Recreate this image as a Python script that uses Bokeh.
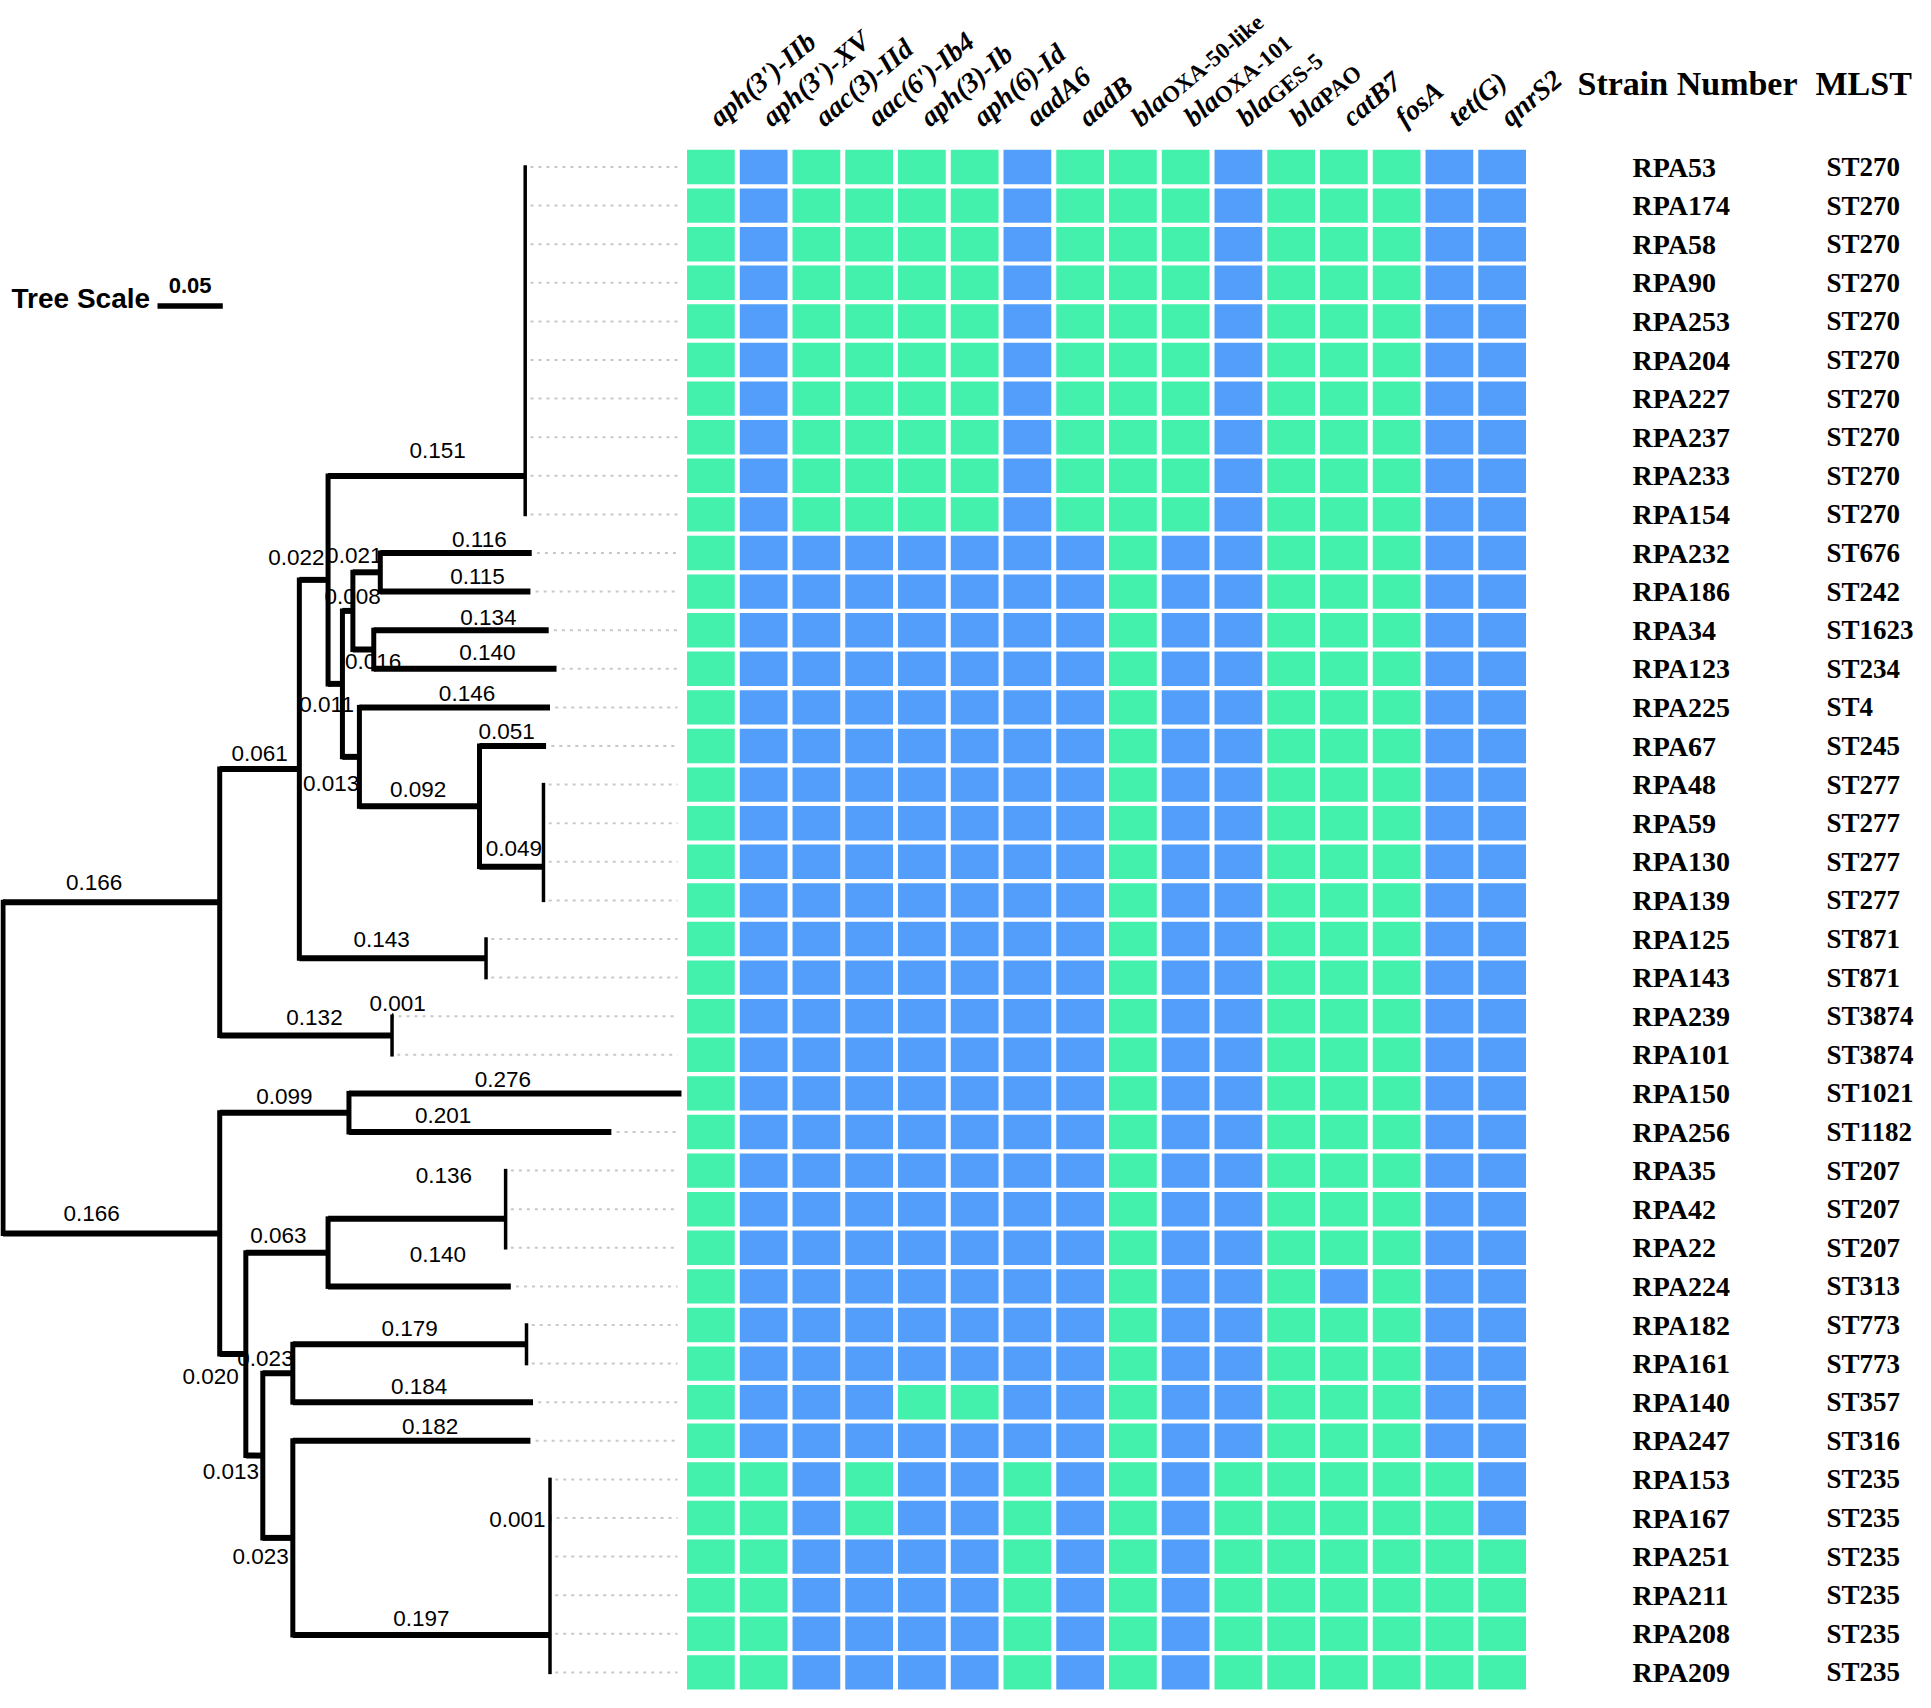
import math
from bokeh.plotting import figure
from bokeh.models import Range1d, ColumnDataSource
from bokeh.embed import file_html
from bokeh.resources import INLINE
from bokeh.core.properties import value

# ---------------- data ----------------
STRAINS = ["RPA53", "RPA174", "RPA58", "RPA90", "RPA253", "RPA204", "RPA227", "RPA237",
           "RPA233", "RPA154", "RPA232", "RPA186", "RPA34", "RPA123", "RPA225", "RPA67",
           "RPA48", "RPA59", "RPA130", "RPA139", "RPA125", "RPA143", "RPA239", "RPA101",
           "RPA150", "RPA256", "RPA35", "RPA42", "RPA22", "RPA224", "RPA182", "RPA161",
           "RPA140", "RPA247", "RPA153", "RPA167", "RPA251", "RPA211", "RPA208", "RPA209"]

MLST = ["ST270", "ST270", "ST270", "ST270", "ST270", "ST270", "ST270", "ST270",
        "ST270", "ST270", "ST676", "ST242", "ST1623", "ST234", "ST4", "ST245",
        "ST277", "ST277", "ST277", "ST277", "ST871", "ST871", "ST3874", "ST3874",
        "ST1021", "ST1182", "ST207", "ST207", "ST207", "ST313", "ST773", "ST773",
        "ST357", "ST316", "ST235", "ST235", "ST235", "ST235", "ST235", "ST235"]

GENE_NAME = ["aph(3')-IIb", "aph(3')-XV", "aac(3)-IId", "aac(6')-Ib4", "aph(3)-Ib",
             "aph(6)-Id", "aadA6", "aadB", "bla", "bla", "bla", "bla",
             "catB7", "fosA", "tet(G)", "qnrS2"]
GENE_SUB = ["", "", "", "", "", "", "", "", "OXA-50-like", "OXA-101", "GES-5", "PAO",
            "", "", "", ""]

# 1 = present (green), 0 = absent (blue); one string per strain, one char per gene
PRESENCE = [
    "1011110111011100", "1011110111011100", "1011110111011100", "1011110111011100",
    "1011110111011100", "1011110111011100", "1011110111011100", "1011110111011100",
    "1011110111011100", "1011110111011100",
    "1000000010011100", "1000000010011100", "1000000010011100", "1000000010011100",
    "1000000010011100", "1000000010011100", "1000000010011100", "1000000010011100",
    "1000000010011100", "1000000010011100", "1000000010011100", "1000000010011100",
    "1000000010011100", "1000000010011100", "1000000010011100", "1000000010011100",
    "1000000010011100", "1000000010011100", "1000000010011100",
    "1000000010010100",
    "1000000010011100", "1000000010011100",
    "1000110010011100",
    "1000000010011100",
    "1101001010111110", "1101001010111110",
    "1100001010111111", "1100001010111111", "1100001010111111", "1100001010111111",
]

# internal nodes of the tree
NODE = ["root", "nA", "nB", "nA1", "nA2", "nA11", "nA12", "nST270", "nC", "nC1", "nC2",
        "nC11", "nC12", "nC21", "nST277", "nB1", "nB2", "nB21", "nB22", "nST207",
        "nB221", "nB222", "nST773", "nST235"]
NODE_PARENT = [None, "root", "root", "nA", "nA", "nA1", "nA1", "nA11", "nA11", "nC", "nC",
               "nC1", "nC1", "nC2", "nC21", "nB", "nB", "nB2", "nB2", "nB21",
               "nB22", "nB22", "nB221", "nB222"]
NODE_LENGTH = [0.0, 0.166, 0.166, 0.061, 0.132, 0.022, 0.143, 0.151, 0.011, 0.008, 0.013,
               0.021, 0.016, 0.092, 0.049, 0.099, 0.020, 0.063, 0.013, 0.136,
               0.023, 0.023, 0.179, 0.197]

# leaves (same order as STRAINS)
LEAF_PARENT = ["nST270"] * 10 + ["nC11", "nC11", "nC12", "nC12", "nC2", "nC21",
               "nST277", "nST277", "nST277", "nST277", "nA12", "nA12", "nA2", "nA2",
               "nB1", "nB1", "nST207", "nST207", "nST207", "nB21", "nST773", "nST773",
               "nB221", "nB222"] + ["nST235"] * 6
LEAF_LENGTH = [0.0] * 10 + [0.116, 0.115, 0.134, 0.140, 0.146, 0.051,
               0.0, 0.0, 0.0, 0.0, 0.0, 0.0, 0.001, 0.0,
               0.276, 0.201, 0.0, 0.0, 0.0, 0.140, 0.0, 0.0,
               0.184, 0.182] + [0.0, 0.001, 0.0, 0.0, 0.0, 0.0]

# ---------------- layout / style ----------------
W, H = 1915, 1692
TREE_PX = 1305.5      # px per unit of branch length
TREE_X0 = 2.5         # px of root
HX0, HP = 710.4, 52.75  # heatmap column 0 centre (px), column pitch (px)
RY0, RP = 166.5, 38.6   # row 0 centre (px), row pitch (px)
DISP = 1.2315
TIP_CLIP = 0.5197
LEADER_END = 0.5167
GREEN = "#43F0AC"
BLUE = "#529EFA"

# label nudges (dx, dy) in reference px relative to branch midpoint / line
NUDGE = {
    "nA": (-14, -16), "nB": (-16, -16), "nA2": (7, -15), "nA11": (-14, -18),
    "nA12": (-9, -15), "nST270": (9, -21), "nC": (-7, 17), "nC1": (4, -12),
    "nC2": (-16, 22), "nC11": (-10, -14), "nC12": (8, 10), "RPA232": (19, -11),
    "RPA186": (18, -12), "RPA34": (22, -10), "RPA123": (18, -13), "RPA225": (10, -11),
    "RPA150": (-10, -11), "RPA256": (-30, -13), "nB21": (-7, -14), "nST207": (22, -35),
    "RPA224": (15, -26), "nB2": (-18, 18), "nB221": (-10, -12), "RPA140": (5, -13),
    "nB22": (-19, 13), "RPA247": (15, -12), "nB222": (-14, 15), "RPA167": (-27, 1),
    "RPA239": (4, -10), "nST277": (2, -15), "RPA67": (-5, -12), "nC21": (-1, -14),
}


def hx(px):
    return (px - HX0) / HP


def ry(py):
    return (py - RY0) / RP


def tx_(px):
    return (px - TREE_X0) / TREE_PX


p = figure(width=W, height=H,
           x_range=Range1d(-TREE_X0 / TREE_PX, (W - TREE_X0) / TREE_PX),
           y_range=Range1d((H - RY0) / RP, -RY0 / RP),
           x_axis_type=None, y_axis_type=None,
           toolbar_location=None, output_backend="svg",
           min_border=0, outline_line_color=None)
p.extra_x_ranges = {"heat": Range1d(-HX0 / HP, (W - HX0) / HP)}
p.background_fill_color = "white"

# ---------------- tree layout ----------------
length, parent = {}, {}
for n, pa, ln in zip(NODE, NODE_PARENT, NODE_LENGTH):
    parent[n] = pa
    length[n] = ln
for s, pa, ln in zip(STRAINS, LEAF_PARENT, LEAF_LENGTH):
    parent[s] = pa
    length[s] = ln
children = {}
for n in NODE + STRAINS:
    if parent[n] is not None:
        children.setdefault(parent[n], []).append(n)
row_of = {s: i for i, s in enumerate(STRAINS)}
X, Y = {}, {}


def place(n, xp):
    X[n] = xp + length[n]
    if n in children:
        for k in children[n]:
            place(k, X[n])
        kids = sorted(children[n], key=lambda k: Y[k])
        children[n] = kids
        yy = Y[kids[0]]
        for k in kids[1:]:
            yy = (yy + Y[k]) / 2.0
        Y[n] = yy
    else:
        Y[n] = row_of[n]


place("root", 0.0)

# leaders
lx0, lx1, ly = [], [], []
for s in STRAINS:
    x0 = min(X[s], TIP_CLIP)
    if x0 < LEADER_END - 0.004:
        lx0.append(x0 + 0.004)
        lx1.append(LEADER_END)
        ly.append(Y[s])
p.segment(x0=lx0, y0=ly, x1=lx1, y1=ly, line_color="#c8c8c8", line_width=2,
          line_dash="3 5")

# horizontal branches
hx0s, hx1s, hys = [], [], []
for n in NODE + STRAINS:
    if parent[n] is None or length[n] <= 0:
        continue
    hx0s.append(X[parent[n]])
    hx1s.append(min(X[n], TIP_CLIP))
    hys.append(Y[n])
p.segment(x0=hx0s, y0=hys, x1=hx1s, y1=hys, line_color="black", line_width=6,
          line_cap="butt")

# vertical connectors
vx, vy0, vy1, vw = [], [], [], []
for n, kids in children.items():
    vx.append(X[n])
    vy0.append(Y[kids[0]])
    vy1.append(Y[kids[-1]])
    thin = all((k not in children) and length[k] <= 0.001 for k in kids)
    vw.append(3.5 if thin else 5.0)
p.segment(x0=vx, y0=vy0, x1=vx, y1=vy1, line_color="black", line_width=vw,
          line_cap="square")

# branch length labels
tx, ty, tt = [], [], []
for n in NODE + STRAINS:
    if parent[n] is None or length[n] <= 0:
        continue
    mid = (X[parent[n]] + min(X[n], TIP_CLIP)) / 2.0
    dx, dy = NUDGE.get(n, (0, -13))
    tx.append(mid + dx * DISP / TREE_PX)
    ty.append(Y[n] + dy * DISP / RP)
    tt.append("%.3f" % length[n])
p.text(x=tx, y=ty, text=tt, text_font=value("Liberation Sans"), text_font_size="22.5px",
       text_align="center", text_baseline="middle", text_color="black")

# tree scale
sx0 = tx_(157)
p.segment(x0=[sx0], y0=[ry(305.5)], x1=[sx0 + 0.05], y1=[ry(305.5)],
          line_color="black", line_width=5.5)
p.text(x=[tx_(11)], y=[ry(298)], text=["Tree Scale"],
       text_font=value("Liberation Sans"), text_font_size="28px", text_font_style="bold",
       text_align="left", text_baseline="middle")
p.text(x=[sx0 + 0.025], y=[ry(285)], text=["0.05"],
       text_font=value("Liberation Sans"), text_font_size="22px", text_font_style="bold",
       text_align="center", text_baseline="middle")

# ---------------- heatmap ----------------
cx, cy, cc = [], [], []
for i, rowstr in enumerate(PRESENCE):
    for j, ch in enumerate(rowstr):
        cx.append(j)
        cy.append(i)
        cc.append(GREEN if ch == "1" else BLUE)
src = ColumnDataSource(dict(x=cx, y=cy, c=cc))
p.rect(x="x", y="y", width=0.905, height=0.89, fill_color="c", line_color=None,
       source=src, x_range_name="heat")

# gene labels (rotated)
ANG = 40.0
ca, sa = math.cos(math.radians(ANG)), math.sin(math.radians(ANG))
gx = [j + 2.0 / HP for j in range(len(GENE_NAME))]
gy = [ry(120)] * len(GENE_NAME)
p.text(x=gx, y=gy, text=GENE_NAME, angle=ANG, angle_units="deg",
       text_font=value("Liberation Serif"), text_font_size="28px",
       text_font_style="bold italic", text_align="left", text_baseline="alphabetic",
       x_range_name="heat")
BLA_W = 35.8
DROP = 3.0
sxs, sys_, sts = [], [], []
for j, sub in enumerate(GENE_SUB):
    if not sub:
        continue
    ox = BLA_W * ca + DROP * sa
    oy = -BLA_W * sa + DROP * ca
    sxs.append(gx[j] + ox / HP)
    sys_.append(gy[j] + oy / RP)
    sts.append(sub)
p.text(x=sxs, y=sys_, text=sts, angle=ANG, angle_units="deg",
       text_font=value("Liberation Serif"), text_font_size="23px",
       text_font_style="bold", text_align="left", text_baseline="alphabetic",
       x_range_name="heat")

# strain / MLST columns
p.text(x=[hx(1577), hx(1815)], y=[ry(83), ry(83)], text=["Strain Number", "MLST"],
       text_font=value("Liberation Serif"), text_font_size="34px", text_font_style="bold",
       text_align="left", text_baseline="middle", x_range_name="heat")
rows = list(range(len(STRAINS)))
p.text(x=[hx(1632)] * len(rows), y=rows, text=STRAINS,
       text_font=value("Liberation Serif"), text_font_size="28px", text_font_style="bold",
       text_align="left", text_baseline="middle", x_range_name="heat")
p.text(x=[hx(1826)] * len(rows), y=rows, text=MLST,
       text_font=value("Liberation Serif"), text_font_size="27px", text_font_style="bold",
       text_align="left", text_baseline="middle", x_range_name="heat")

open("out.html", "w").write(file_html(p, INLINE))
